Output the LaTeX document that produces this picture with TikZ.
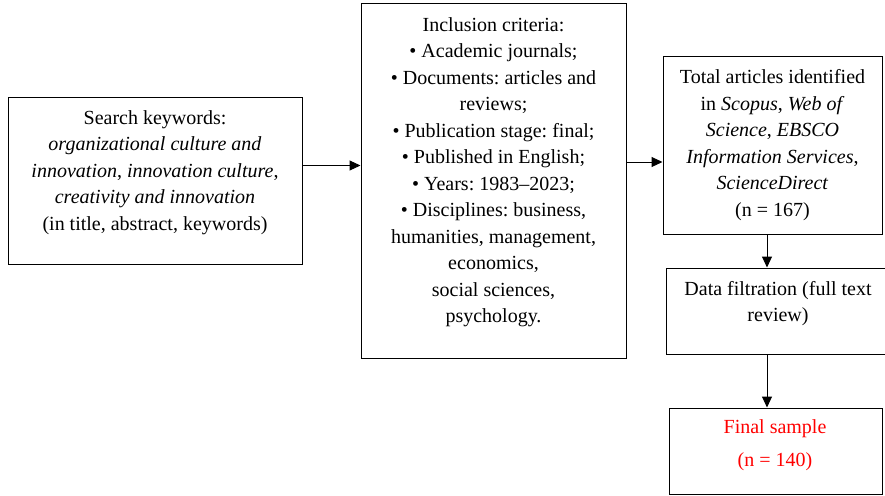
\documentclass[tikz,border=0pt]{standalone}
\usepackage{fontspec}
\setmainfont{Liberation Serif}
\usepackage{xcolor}
\usetikzlibrary{positioning, arrows.meta, calc}
\frenchspacing

\begin{document}
\begin{tikzpicture}[
  x=1pt, y=-1pt,
  box/.style={rectangle, draw, line width=1pt, inner sep=0pt},
  txt/.style={align=center, inner sep=0pt,
              font=\fontsize{20}{26.5}\selectfont},
  arrow/.style={-{Triangle[length=11pt, width=10pt]}, line width=1pt},
]
\useasboundingbox (0,0) rectangle (885,495);

\node[box, minimum width=294pt, minimum height=167pt] at (155, 180.5)   (search)   {};
\node[box, minimum width=265pt, minimum height=354pt] at (493.5, 181)   (criteria) {};
\node[box, minimum width=219pt, minimum height=177pt] at (772.5, 145.5) (total)    {};
\node[box, minimum width=224pt, minimum height=86pt]  at (778, 311)     (filter)   {};
\node[box, minimum width=213pt, minimum height=86pt]  at (775.5, 451)   (final)    {};

\node[txt] at (155, 172.5) (searchtxt) {Search keywords:\\
  \textit{organizational culture and}\\
  \textit{innovation}, \textit{innovation culture},\\
  \textit{creativity and innovation}\\
  (in title, abstract, keywords)};
\node[txt] at (493.5, 172) (criteriatxt) {Inclusion criteria:\\
  • Academic journals;\\
  • Documents: articles and\\
  reviews;\\
  • Publication stage: final;\\
  • Published in English;\\
  • Years: 1983–2023;\\
  • Disciplines: business,\\
  humanities, management,\\
  economics,\\
  social sciences,\\
  psychology.};
\node[txt] at (772.5, 145) (totaltxt) {Total articles identified\\
  in \textit{Scopus}, \textit{Web of}\\
  \textit{Science}, \textit{EBSCO}\\
  \textit{Information Services},\\
  \textit{ScienceDirect}\\
  (n = 167)};
\node[txt] at (778, 303.5) (filtertxt) {Data filtration (full text\\review)};
\node[txt, text=red, font=\fontsize{20}{33}\selectfont] at (775, 445.5) (finaltxt)
  {Final sample\\(n = 140)};

\draw[arrow] ([yshift=15pt]search.east) -- ([yshift=15pt]search.east -| criteria.west);
\draw[arrow] ([yshift=19pt]criteria.east) -- ([yshift=19pt]criteria.east -| total.west);
\draw[arrow] ([xshift=-5.5pt]total.south) -- ([xshift=-5.5pt]total.south |- filter.north);
\draw[arrow] ([xshift=-11pt]filter.south) -- ([xshift=-11pt]filter.south |- final.north);
\end{tikzpicture}
\end{document}
